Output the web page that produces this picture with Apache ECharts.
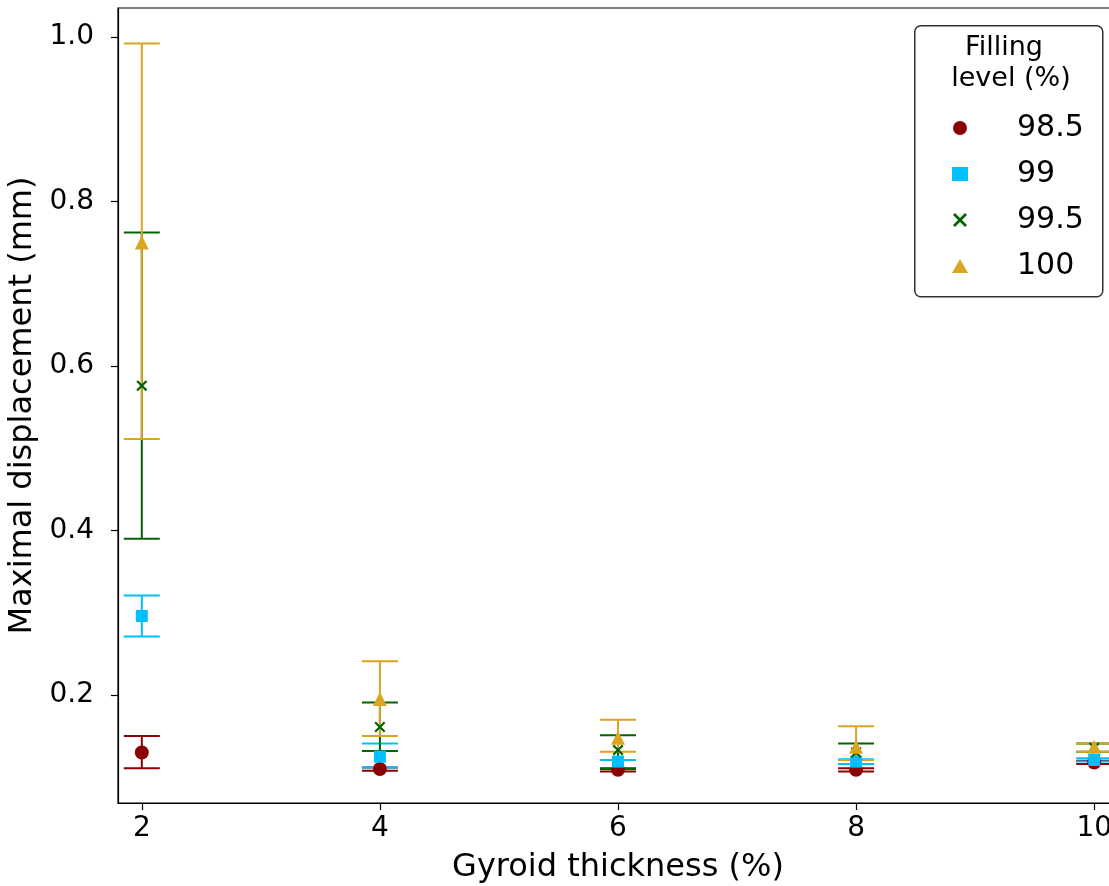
<!DOCTYPE html>
<html>
<head>
<meta charset="utf-8">
<script src="https://cdn.jsdelivr.net/npm/echarts@6/dist/echarts.min.js"></script>
<style>html,body{margin:0;padding:0;background:#fff}#c{width:1109px;height:886px}</style>
</head>
<body>
<div id="c"></div>
<script>
const xValues = [2, 4, 6, 8, 10];
const xTicks = [2, 4, 6, 8, 10];
const yTicks = [0.2, 0.4, 0.6, 0.8, 1.0];
const seriesNames = ['98.5', '99', '99.5', '100'];

const mean985 = [0.130, 0.110, 0.109, 0.109, 0.118];
const low985  = [0.111, 0.108, 0.107, 0.107, 0.116];
const high985 = [0.150, 0.112, 0.111, 0.111, 0.120];

const mean99 = [0.296, 0.125, 0.119, 0.119, 0.121];
const low99  = [0.271, 0.112, 0.110, 0.116, 0.119];
const high99 = [0.321, 0.141, 0.121, 0.122, 0.123];

const mean995 = [0.576, 0.161, 0.133, 0.130, 0.136];
const low995  = [0.390, 0.132, 0.110, 0.121, 0.131];
const high995 = [0.762, 0.191, 0.151, 0.141, 0.141];

const mean100 = [0.750, 0.195, 0.148, 0.137, 0.137];
const low100  = [0.511, 0.150, 0.131, 0.121, 0.131];
const high100 = [0.992, 0.241, 0.170, 0.162, 0.141];

const FONT = 'DejaVu Sans';
const colors = ['#8B0000', '#00BFFF', '#006400', '#DAA520'];
const symbols = [
  'circle',
  'rect',
  'path://M0,1.4L1.4,0L5,3.6L8.6,0L10,1.4L6.4,5L10,8.6L8.6,10L5,6.4L1.4,10L0,8.6L3.6,5Z',
  'triangle'
];
const symbolSizes = [14, 12, 11, 14];
const means = [mean985, mean99, mean995, mean100];
const lows = [low985, low99, low995, low100];
const highs = [high985, high99, high995, high100];

function errRender(color) {
  return function (params, api) {
    const x = api.value(0), lo = api.value(1), hi = api.value(2);
    const a = api.coord([x, lo]), b = api.coord([x, hi]);
    const hw = 18;
    const st = { stroke: color, lineWidth: 2 };
    return {
      type: 'group',
      children: [
        { type: 'line', shape: { x1: a[0], y1: a[1], x2: b[0], y2: b[1] }, style: st },
        { type: 'line', shape: { x1: a[0] - hw, y1: a[1], x2: a[0] + hw, y2: a[1] }, style: st },
        { type: 'line', shape: { x1: b[0] - hw, y1: b[1], x2: b[0] + hw, y2: b[1] }, style: st }
      ]
    };
  };
}

const series = [];
seriesNames.forEach((name, i) => {
  series.push({
    name: name + ' err',
    type: 'custom',
    renderItem: errRender(colors[i]),
    encode: { x: 0, y: [1, 2] },
    data: xValues.map((x, k) => [x, lows[i][k], highs[i][k]]),
    silent: true,
    clip: false,
    z: 2
  });
  series.push({
    name: name,
    type: 'scatter',
    symbol: symbols[i],
    symbolSize: symbolSizes[i],
    itemStyle: { color: colors[i], opacity: 1 },
    data: xValues.map((x, k) => [x, means[i][k]]),
    z: 2
  });
});

const chart = echarts.init(document.getElementById('c'), null, { renderer: 'canvas' });
chart.setOption({
  animation: false,
  backgroundColor: '#fff',
  grid: {
    left: 118, top: 8, width: 1000, height: 795,
    outerBoundsMode: 'none', containLabel: false,
    show: true, borderColor: '#000', borderWidth: 1.2, backgroundColor: 'transparent'
  },
  xAxis: {
    type: 'value', min: 1.8, max: 10.2,
    name: 'Gyroid thickness (%)', nameLocation: 'middle', nameGap: 49,
    nameTextStyle: { fontFamily: FONT, fontSize: 32, color: '#000' },
    axisLine: { show: true, lineStyle: { color: '#000', width: 1.2 } },
    axisTick: { show: true, length: 7, lineStyle: { color: '#000', width: 1.2 }, customValues: xTicks },
    axisLabel: { fontFamily: FONT, fontSize: 28, color: '#000', margin: 12, customValues: xTicks },
    splitLine: { show: false }
  },
  yAxis: {
    type: 'value', min: 0.0687, max: 1.035,
    name: 'Maximal displacement (mm)', nameLocation: 'middle', nameGap: 68, nameRotate: 90,
    nameTextStyle: { fontFamily: FONT, fontSize: 32, color: '#000' },
    axisLine: { show: true, lineStyle: { color: '#000', width: 1.2 } },
    axisTick: { show: true, length: 7, lineStyle: { color: '#000', width: 1.2 }, customValues: yTicks },
    axisLabel: { fontFamily: FONT, fontSize: 28, color: '#000', margin: 24, customValues: yTicks,
      formatter: v => v.toFixed(1) },
    splitLine: { show: false }
  },
  legend: {
    orient: 'vertical',
    left: 947, top: 108,
    itemWidth: 16, itemHeight: 14, itemGap: 16,
    data: seriesNames,
    textStyle: { fontFamily: FONT, fontSize: 30, color: '#000', lineHeight: 30, padding: [0, 0, 0, 44] },
    z: 10
  },
  graphic: [
    { type: 'rect', left: 914, top: 25, z: 5,
      shape: { width: 188, height: 271, r: 6 },
      style: { fill: 'rgba(255,255,255,0.85)', stroke: '#333', lineWidth: 1.5 } },
    { type: 'text', z: 6, style: { text: 'Filling', x: 1004, y: 48, textAlign: 'center', textVerticalAlign: 'middle',
      font: '27px "DejaVu Sans"', fill: '#000' } },
    { type: 'text', z: 6, style: { text: 'level (%)', x: 1011, y: 79, textAlign: 'center', textVerticalAlign: 'middle',
      font: '27px "DejaVu Sans"', fill: '#000' } }
  ],
  series: series
});
</script>
</body>
</html>
